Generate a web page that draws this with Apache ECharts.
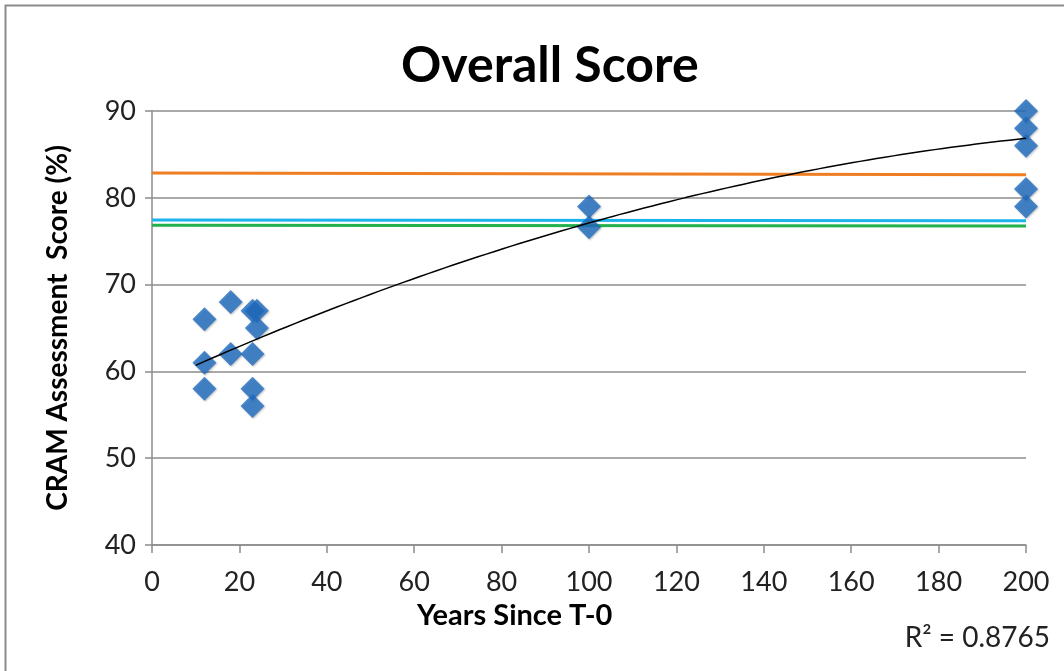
<!DOCTYPE html>
<html><head><meta charset="utf-8">
<script src="https://cdn.jsdelivr.net/npm/echarts@6/dist/echarts.min.js"></script>
<style>html,body{margin:0;padding:0;background:#fff}#c{width:1064px;height:671px}</style>
</head><body><div id="c"></div>
<script>
const years = [12, 12, 12, 18, 18, 23, 23, 23, 24, 24, 23, 100, 100, 200, 200, 200, 200, 200];
const scores = [66, 61, 58, 68, 62, 67, 62, 58, 67, 65, 56, 79, 76.6, 90, 88, 86, 81, 79];
const orangeRef = [[0, 82.85], [200, 82.65]];
const blueRef = [[0, 77.45], [200, 77.35]];
const greenRef = [[0, 76.85], [200, 76.75]];
// polynomial (order 2) trendline coefficients: y = c0 + c1*x + c2*x^2
const trendCoef = [58.43, 0.2313, -0.000446];
const trendRange = [10, 200];
const xTicks = [0, 20, 40, 60, 80, 100, 120, 140, 160, 180, 200];
const yTicks = [40, 50, 60, 70, 80, 90];
const r2Label = 'R² = 0.8765';

const trend = [];
for (let i = 0; i <= 100; i++) {
  const x = trendRange[0] + (trendRange[1] - trendRange[0]) * i / 100;
  trend.push([x, trendCoef[0] + trendCoef[1] * x + trendCoef[2] * x * x]);
}

const chart = echarts.init(document.getElementById('c'));
const font = 'Lato, "Open Sans", sans-serif';
chart.setOption({
  animation: false,
  backgroundColor: '#fff',
  graphic: [
    { type: 'rect', shape: { x: 5.5, y: 5.5, width: 1100, height: 700 }, style: { fill: 'none', stroke: '#8c8c8c', lineWidth: 2 } },
    { type: 'text', right: 14, top: 624, style: { text: r2Label, font: '28px ' + font, fill: '#222' } },
    { type: 'text', left: 417, top: 601, style: { text: 'Years Since T-0', font: 'bold 29px ' + font, fill: '#000' } }
  ],
  title: {
    text: 'Overall Score', left: 396, top: 36,
    textStyle: { fontFamily: font, fontWeight: 'bold', fontSize: 50, color: '#000' }
  },
  grid: { left: 152, right: 38, top: 111, bottom: 126 },
  xAxis: {
    type: 'value', min: 0, max: 200, interval: 20,
    axisLine: { show: true, lineStyle: { color: '#8c8c8c', width: 1.5 } },
    axisTick: { show: true, length: 8, lineStyle: { color: '#8c8c8c', width: 1.5 } },
    axisLabel: { fontFamily: font, fontSize: 27, color: '#222', margin: 24 },
    splitLine: { show: false }
  },
  yAxis: {
    type: 'value', min: 40, max: 90, interval: 10,
    name: 'CRAM Assessment  Score (%)', nameLocation: 'middle', nameGap: 80, nameRotate: 90,
    nameTextStyle: { fontFamily: font, fontWeight: 'bold', fontSize: 28, color: '#000' },
    axisLine: { show: true, lineStyle: { color: '#8c8c8c', width: 1.5 } },
    axisTick: { show: true, length: 7, lineStyle: { color: '#8c8c8c', width: 1.5 } },
    axisLabel: { fontFamily: font, fontSize: 27, color: '#222', margin: 16 },
    splitLine: { show: true, lineStyle: { color: '#8c8c8c', width: 1.5 } }
  },
  series: [
    { type: 'line', data: orangeRef, symbol: 'none', lineStyle: { color: '#ef7d22', width: 3 }, z: 2 },
    { type: 'line', data: blueRef, symbol: 'none', lineStyle: { color: '#1cb2ec', width: 3 }, z: 2 },
    { type: 'line', data: greenRef, symbol: 'none', lineStyle: { color: '#22b14c', width: 3 }, z: 2 },
    { type: 'scatter', data: years.map((x, i) => [x, scores[i]]), symbol: 'diamond', symbolSize: 24,
      itemStyle: { color: '#1f6dc2', shadowBlur: 2, shadowColor: 'rgba(0,0,0,0.3)', shadowOffsetX: 1, shadowOffsetY: 1 }, z: 3 },
    { type: 'line', data: trend, symbol: 'none', lineStyle: { color: '#000', width: 1.5 }, z: 4 }
  ]
});
</script></body></html>
